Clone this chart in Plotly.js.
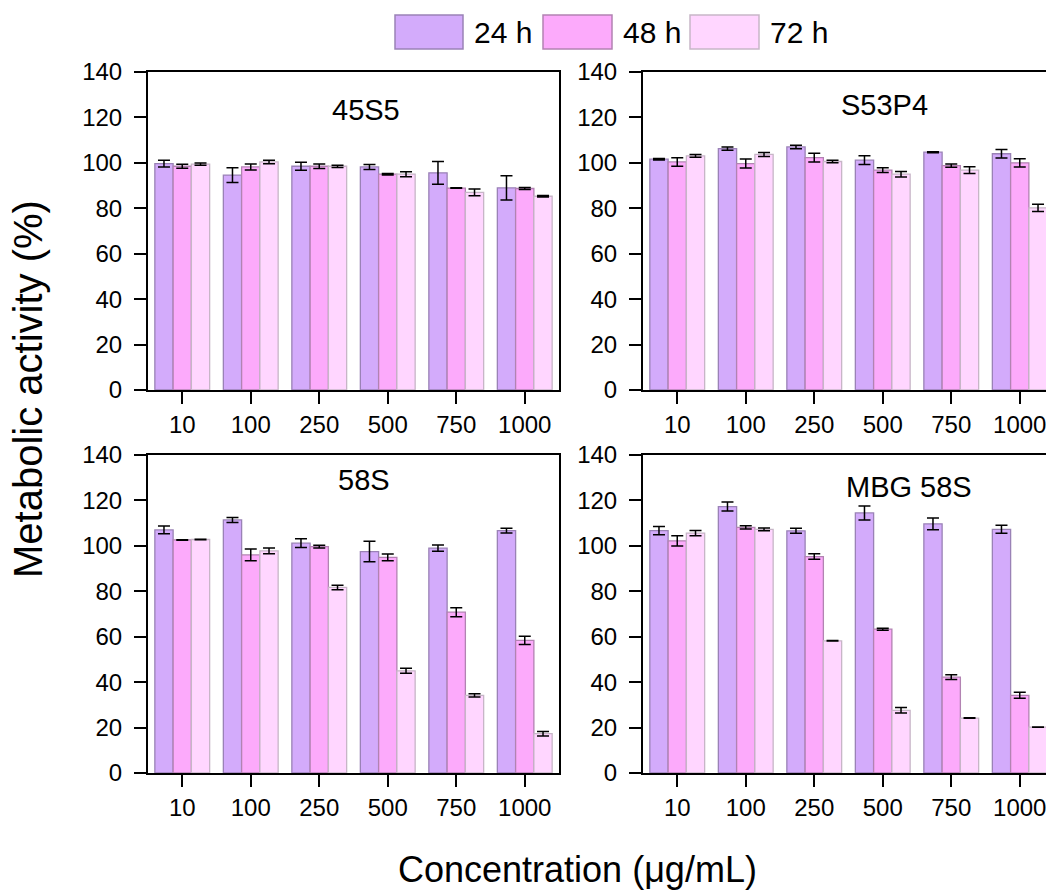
<!DOCTYPE html>
<html>
<head>
<meta charset="utf-8">
<script src="https://cdn.plot.ly/plotly-3.0.1.min.js"></script>
<style>
html,body{margin:0;padding:0;overflow:hidden;background:#fff;}
#chart{width:1060px;height:891px;}
</style>
</head>
<body>
<div id="chart"></div>
<script>
// ---------- data ----------
const categories = ['10', '100', '250', '500', '750', '1000'];
const seriesNames = ['24 h', '48 h', '72 h'];
const panelNames = ['45S5', 'S53P4', '58S', 'MBG 58S'];

// 45S5
const s45S5_24 = [99.7, 94.6, 98.5, 98.2, 95.6, 89.0];
const s45S5_48 = [98.5, 98.2, 98.5, 95.0, 88.9, 88.7];
const s45S5_72 = [99.4, 100.4, 98.5, 95.0, 87.0, 85.3];
const e45S5_24 = [1.5, 3.3, 1.8, 1.1, 5.0, 5.3];
const e45S5_48 = [0.9, 1.3, 1.0, 0.3, 0.1, 0.4];
const e45S5_72 = [0.5, 0.8, 0.5, 1.1, 1.5, 0.3];

// S53P4
const sS53P4_24 = [101.6, 106.3, 107.0, 101.2, 104.7, 104.0];
const sS53P4_48 = [100.4, 99.7, 102.3, 96.8, 98.8, 100.0];
const sS53P4_72 = [103.1, 103.7, 100.6, 95.0, 96.8, 80.2];
const eS53P4_24 = [0.3, 0.7, 0.8, 1.9, 0.2, 1.9];
const eS53P4_48 = [1.9, 2.0, 1.9, 1.0, 0.7, 1.8];
const eS53P4_72 = [0.6, 0.9, 0.5, 1.2, 1.5, 1.6];

// 58S
const s58S_24 = [107.0, 111.4, 101.2, 97.5, 99.0, 106.7];
const s58S_48 = [102.6, 96.0, 99.7, 94.9, 70.8, 58.4];
const s58S_72 = [102.8, 97.8, 81.7, 45.0, 34.2, 17.3];
const e58S_24 = [1.7, 1.1, 1.9, 4.5, 1.4, 1.0];
const e58S_48 = [0.1, 2.6, 0.6, 1.5, 2.0, 1.8];
const e58S_72 = [0.1, 1.3, 1.0, 1.1, 0.7, 1.0];

// MBG 58S
const sMBG_24 = [106.7, 117.3, 106.6, 114.5, 109.7, 107.3];
const sMBG_48 = [102.2, 108.1, 95.3, 63.3, 42.2, 34.2];
const sMBG_72 = [105.6, 107.3, 58.2, 27.6, 24.2, 20.2];
const eMBG_24 = [1.8, 2.0, 1.1, 3.1, 2.6, 1.8];
const eMBG_48 = [2.3, 0.7, 1.2, 0.4, 1.0, 1.3];
const eMBG_72 = [1.2, 0.6, 0.1, 1.2, 0.1, 0.1];

const yTickVals = [0, 20, 40, 60, 80, 100, 120, 140];

// ---------- styles / layout geometry ----------
const fillColors = ['#d3abfb', '#fcaafb', '#ffd6ff'];
const lineColors = ['#9a82b6', '#b283b2', '#c7b6c7'];
const W = 1060, H = 891;
const px = x => x / W;
const py = y => 1 - y / H;
const FONT = 'Liberation Sans, Arial, sans-serif';

const panels = [
  {vals: [s45S5_24, s45S5_48, s45S5_72], errs: [e45S5_24, e45S5_48, e45S5_72], x0: 148, x1: 559, y0: 72, y1: 390, tx: 366, ty: 110},
  {vals: [sS53P4_24, sS53P4_48, sS53P4_72], errs: [eS53P4_24, eS53P4_48, eS53P4_72], x0: 643, x1: 1054, y0: 72, y1: 390, tx: 884, ty: 105},
  {vals: [s58S_24, s58S_48, s58S_72], errs: [e58S_24, e58S_48, e58S_72], x0: 148, x1: 559, y0: 455, y1: 773, tx: 364, ty: 480},
  {vals: [sMBG_24, sMBG_48, sMBG_72], errs: [eMBG_24, eMBG_48, eMBG_72], x0: 643, x1: 1054, y0: 455, y1: 773, tx: 909, ty: 487}
];

const traces = [];
const layout = {
  width: W, height: H,
  margin: {l: 0, r: 0, t: 0, b: 0},
  paper_bgcolor: '#fff', plot_bgcolor: '#fff',
  barmode: 'group', bargap: 0.2, bargroupgap: 0,
  showlegend: false,
  font: {family: FONT, color: '#000'},
  annotations: [], shapes: []
};

panels.forEach((p, k) => {
  const sfx = k === 0 ? '' : String(k + 1);
  const xa = 'x' + sfx, ya = 'y' + sfx;
  p.vals.forEach((v, i) => {
    traces.push({
      type: 'bar', name: seriesNames[i], x: categories, y: v,
      xaxis: xa, yaxis: ya, showlegend: false,
      marker: {color: fillColors[i], line: {color: lineColors[i], width: 1.3}},
      error_y: {type: 'data', array: p.errs[i], visible: true, color: '#000', thickness: 1.5, width: 6},
      hoverinfo: 'y'
    });
  });
  const common = {
    showline: true, linecolor: '#000', linewidth: 2, mirror: true,
    ticks: 'outside', ticklen: 12, tickwidth: 2, tickcolor: '#000',
    tickfont: {size: 24, color: '#000', family: FONT},
    showgrid: false, zeroline: false, fixedrange: true
  };
  layout['xaxis' + sfx] = Object.assign({}, common, {
    domain: [px(p.x0), px(p.x1)], anchor: ya, type: 'category',
    range: [-0.5, categories.length - 0.5], ticklabelstandoff: 0
  });
  layout['yaxis' + sfx] = Object.assign({}, common, {
    domain: [py(p.y1), py(p.y0)], anchor: xa, range: [0, 140],
    tickvals: yTickVals, ticklabelstandoff: 7
  });
  layout.annotations.push({
    text: panelNames[k], xref: 'paper', yref: 'paper',
    x: px(p.tx), y: py(p.ty), xanchor: 'center', yanchor: 'middle',
    showarrow: false, font: {size: 29, color: '#000', family: FONT}
  });
});

// axis titles
layout.annotations.push({
  text: 'Metabolic activity (%)', xref: 'paper', yref: 'paper',
  x: px(28), y: py(389), xanchor: 'center', yanchor: 'middle', textangle: -90,
  showarrow: false, font: {size: 40, color: '#000', family: FONT}
});
layout.annotations.push({
  text: 'Concentration (\u03bcg/mL)', xref: 'paper', yref: 'paper',
  x: px(577), y: py(869), xanchor: 'center', yanchor: 'middle',
  showarrow: false, font: {size: 36, color: '#000', family: FONT}
});

// legend (drawn manually to match large swatches)
const legBoxes = [[395, 463], [543, 612], [690, 759]];
legBoxes.forEach((b, i) => {
  layout.shapes.push({
    type: 'rect', xref: 'paper', yref: 'paper',
    x0: px(b[0]), x1: px(b[1]), y0: py(49), y1: py(15),
    fillcolor: fillColors[i], line: {color: lineColors[i], width: 1.5}
  });
  layout.annotations.push({
    text: seriesNames[i], xref: 'paper', yref: 'paper',
    x: px(b[1] + 9), y: py(32), xanchor: 'left', yanchor: 'middle',
    showarrow: false, font: {size: 30, color: '#000', family: FONT}
  });
});

Plotly.newPlot('chart', traces, layout, {displayModeBar: false, staticPlot: true});
</script>
</body>
</html>
